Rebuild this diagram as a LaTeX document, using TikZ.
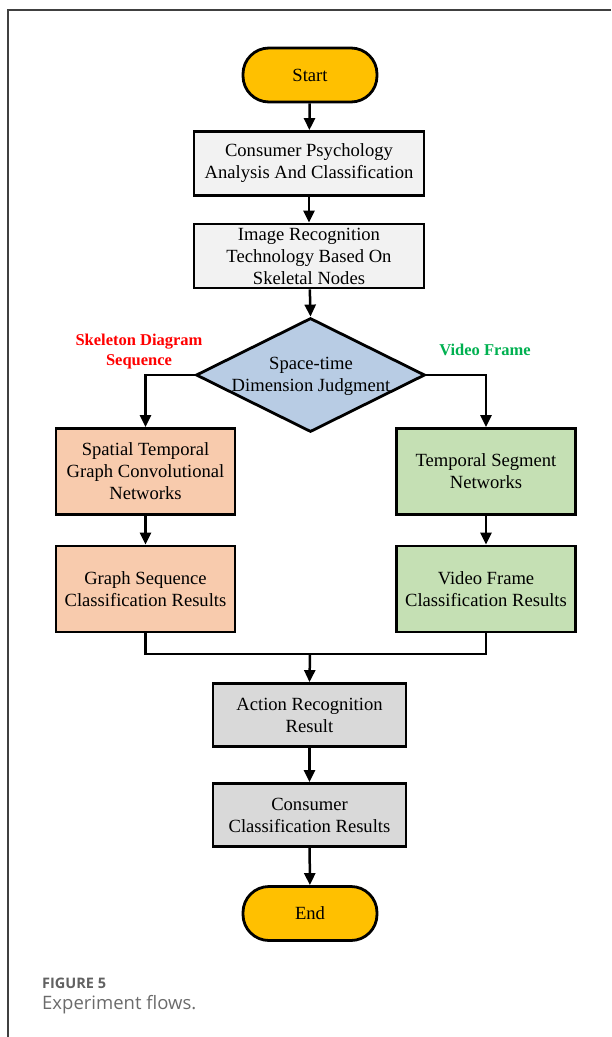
\documentclass[tikz,border=0pt]{standalone}
\usepackage{fontspec}
\setmainfont{Liberation Serif}
\newfontfamily\capfont{Open Sans}
\usetikzlibrary{shapes.geometric,arrows.meta}
\definecolor{pillc}{HTML}{FFC000}
\definecolor{grayA}{HTML}{F2F2F2}
\definecolor{grayB}{HTML}{D9D9D9}
\definecolor{blueD}{HTML}{B8CCE4}
\definecolor{orangeB}{HTML}{F8CBAD}
\definecolor{greenB}{HTML}{C5E0B4}
\definecolor{redL}{HTML}{FF0000}
\definecolor{greenL}{HTML}{00B050}
\definecolor{frameC}{HTML}{404040}
\begin{document}
\begin{tikzpicture}[x=1pt,y=-1pt,
  every node/.style={font=\fontsize{18.6}{22}\selectfont, align=center, inner sep=0pt},
  pill/.style={draw, line width=2.8pt, fill=pillc, rounded corners=26pt, minimum width=134pt, minimum height=54pt},
  boxA/.style={draw, line width=2.8pt, fill=grayA, minimum width=230pt, minimum height=64pt},
  boxB/.style={draw, line width=2.8pt, fill=grayB, minimum width=193pt, minimum height=63pt},
  boxO/.style={draw, line width=2.8pt, fill=orangeB, minimum width=179pt, minimum height=86pt},
  boxG/.style={draw, line width=2.8pt, fill=greenB, minimum width=179pt, minimum height=86pt},
  arr/.style={line width=2.5pt, -{Triangle[width=11pt,length=12pt]}},
  ln/.style={line width=2.5pt},
  lab/.style={font=\fontsize{16.5}{20}\selectfont\bfseries}
]
\useasboundingbox (0,0) rectangle (611,1037);
% frame
\draw[frameC, line width=1.4pt] (8,1037) -- (8,10) -- (611,10);

\node[pill] (start) at (310,75) {Start};
\node[boxA] (b1) at (309,163.5) {Consumer Psychology\\Analysis And Classification};
\node[boxA] (b2) at (309,256) {Image Recognition\\Technology Based On\\Skeletal Nodes};
\node[diamond, draw, line width=2.8pt, fill=blueD, minimum width=229pt, minimum height=114pt, aspect=2] (dec) at (310.5,375) {};
\node (dect) at (311,376) {Space-time\\Dimension Judgment};
\node[boxO] (l1) at (145.5,471.5) {Spatial Temporal\\Graph Convolutional\\Networks};
\node[boxG] (r1) at (486,471.5) {Temporal Segment\\Networks};
\node[boxO] (l2) at (145.5,589) {Graph Sequence\\Classification Results};
\node[boxG] (r2) at (486,589) {Video Frame\\Classification Results};
\node[boxB] (act) at (309.5,715) {Action Recognition\\Result};
\node[boxB] (con) at (309.5,815) {Consumer\\Classification Results};
\node[pill] (end) at (310,913.5) {End};

\node[lab, text=redL] (skl) at (139,352) {Skeleton Diagram\\Sequence};
\node[lab, text=greenL] (vfl) at (485,350) {Video Frame};

\coordinate (m) at (310,654);

\draw[arr] (start) -- (b1);
\draw[arr] (b1) -- (b2);
\draw[arr] (b2) -- (dec.north);
\draw[arr] (dec.west) -| (l1.north);
\draw[arr] (dec.east) -| (r1.north);
\draw[arr] (l1) -- (l2);
\draw[arr] (r1) -- (r2);
\draw[ln] (l2.south) -- (l2.south |- m) -- (r2.south |- m) -- (r2.south);
\draw[arr] (m) -- (act.north);
\draw[arr] (act) -- (con);
\draw[arr] (con) -- (end);

\node[anchor=west, font=\capfont\fontsize{14.5}{17}\selectfont\bfseries, text=black!62] (fig) at (42,983) {FIGURE 5};
\node[anchor=west, font=\capfont\fontsize{18.5}{22}\selectfont, text=black!58] (cap) at (42,1005) {Experiment flows.};
\end{tikzpicture}
\end{document}
